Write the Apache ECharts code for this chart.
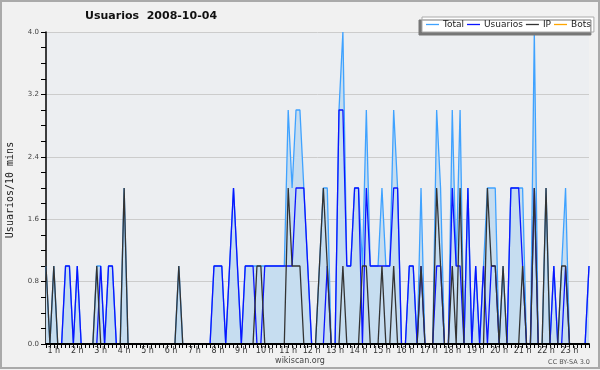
<!DOCTYPE html>
<html>
<head>
<meta charset="utf-8">
<script src="https://cdn.jsdelivr.net/npm/echarts@6/dist/echarts.min.js"></script>
<style>
html,body{margin:0;padding:0;background:#f1f1f1;}
#c{width:600px;height:370px;}
</style>
</head>
<body>
<div id="c"></div>
<script>
// 10-minute slots, first slot shown at 0:40
var hourLabels = ["1 h","2 h","3 h","4 h","5 h","6 h","7 h","8 h","9 h","10 h","11 h","12 h",
  "13 h","14 h","15 h","16 h","17 h","18 h","19 h","20 h","21 h","22 h","23 h"];
var yTicks = [0, 0.8, 1.6, 2.4, 3.2, 4.0];

var total = [
  1,0,1,0,0,1,1,0,1,0,
  0,0,0,1,1,0,1,1,0,0,
  2,0,0,0,0,0,0,0,0,0,
  0,0,0,0,1,0,0,0,0,0,
  0,0,0,1,1,1,0,1,2,1,
  0,1,1,1,1,1,1,1,1,1,
  1,1,3,2,3,3,2,1,0,0,
  1,2,2,0,0,3,4,1,1,2,
  2,1,3,1,1,1,2,1,1,3,
  2,0,0,1,1,0,2,0,0,0,
  3,2,0,0,3,1,3,0,2,0,
  1,0,1,2,2,2,0,1,0,2,
  2,2,2,0,0,4,0,0,2,0,
  1,0,1,2,0,0,0,0,0,1
];
var usuarios = [
  0,0,0,0,0,1,1,0,1,0,
  0,0,0,0,1,0,1,1,0,0,
  0,0,0,0,0,0,0,0,0,0,
  0,0,0,0,0,0,0,0,0,0,
  0,0,0,1,1,1,0,1,2,1,
  0,1,1,1,0,0,1,1,1,1,
  1,1,1,1,2,2,2,1,0,0,
  0,0,1,0,0,3,3,1,1,2,
  2,0,2,1,1,1,1,1,1,2,
  2,0,0,1,1,0,1,0,0,0,
  1,1,0,0,2,1,1,0,2,0,
  1,0,1,0,1,1,0,0,0,2,
  2,2,1,0,0,2,0,0,0,0,
  1,0,0,1,0,0,0,0,0,1
];
var ip = [
  1,0,1,0,0,0,0,0,0,0,
  0,0,0,1,0,0,0,0,0,0,
  2,0,0,0,0,0,0,0,0,0,
  0,0,0,0,1,0,0,0,0,0,
  0,0,0,0,0,0,0,0,0,0,
  0,0,0,0,1,1,0,0,0,0,
  0,0,2,1,1,1,0,0,0,0,
  1,2,1,0,0,0,1,0,0,0,
  0,1,1,0,0,0,1,0,0,1,
  0,0,0,0,0,0,1,0,0,0,
  2,1,0,0,1,0,2,0,0,0,
  0,0,0,2,1,1,0,1,0,0,
  0,0,1,0,0,2,0,0,2,0,
  0,0,1,1,0,0,0,0,0,0
];
var bots = [
  0,0,0,0,0,0,0,0,0,0,
  0,0,0,0,0,0,0,0,0,0,
  0,0,0,0,0,0,0,0,0,0,
  0,0,0,0,0,0,0,0,0,0,
  0,0,0,0,0,0,0,0,0,0,
  0,0,0,0,0,0,0,0,0,0,
  0,0,0,0,0,0,0,0,0,0,
  0,0,0,0,0,0,0,0,0,0,
  0,0,0,0,0,0,0,0,0,0,
  0,0,0,0,0,0,0,0,0,0,
  0,0,0,0,0,0,0,0,0,0,
  0,0,0,0,0,0,0,0,0,0,
  0,0,0,0,0,0,0,0,0,0,
  0,0,0,0,0,0,0,0,0,0
];

var slots = [];
for (var i = 0; i < total.length; i++) {
  var m = (i + 4) * 10;
  slots.push(Math.floor(m / 60) + ":" + ("0" + (m % 60)).slice(-2));
}
function isHour(idx) { return (idx + 4) % 6 === 0; }

var chart = echarts.init(document.getElementById('c'), null, {renderer: 'canvas'});
var FONT = 'DejaVu Sans';
chart.setOption({
  backgroundColor: '#f1f1f1',
  animation: false,
  title: {
    text: 'Usuarios  2008-10-04',
    left: 80, top: 6,
    textStyle: {fontFamily: FONT, fontSize: 11, fontWeight: 'bold', color: '#111'}
  },
  legend: {
    data: ['Total', 'Usuarios', 'IP', 'Bots'],
    left: 422, top: 17,
    icon: 'rect', itemWidth: 13, itemHeight: 1.3, itemGap: 3,
    padding: [3, 3, 3, 4],
    backgroundColor: '#ffffff',
    borderColor: '#aaaaaa', borderWidth: 1,
    shadowColor: '#777777', shadowBlur: 0, shadowOffsetX: -3, shadowOffsetY: 3,
    textStyle: {fontFamily: FONT, fontSize: 9, color: '#222', padding: [0, 0, 0, -1]}
  },
  grid: {
    left: 46, right: 11, top: 32, bottom: 26,
    show: true, backgroundColor: '#eceef1', borderWidth: 0
  },
  xAxis: {
    type: 'category', data: slots, boundaryGap: false, z: 10,
    axisLine: {lineStyle: {color: '#000', width: 2}},
    axisTick: {interval: 0, length: 4, lineStyle: {color: '#000'}},
    axisLabel: {
      interval: function (idx) { return isHour(idx); },
      formatter: function (v, idx) { return isHour(idx) ? hourLabels[(idx + 4) / 6 - 1] : ''; },
      margin: 3, fontFamily: FONT, fontSize: 8, color: '#333'
    },
    splitLine: {show: false}
  },
  yAxis: {
    type: 'value', min: 0, max: 4, interval: 0.8,
    axisLine: {show: true, lineStyle: {color: '#000', width: 1.5}},
    axisTick: {show: true, length: 5, lineStyle: {color: '#000'}},
    minorTick: {show: true, splitNumber: 4, length: 5, lineStyle: {color: '#000'}},
    axisLabel: {
      formatter: function (v) { return v.toFixed(1); },
      margin: 7, fontFamily: FONT, fontSize: 7, color: '#444'
    },
    splitLine: {show: true, lineStyle: {color: '#cccccc', width: 1}}
  },
  graphic: [
    {type: 'rect', shape: {x: 1, y: 1, width: 598, height: 367}, style: {fill: 'none', stroke: '#aaaaaa', lineWidth: 2}, z: 100},
    {type: 'text', x: 10, y: 190, rotation: Math.PI / 2,
      style: {text: 'Usuarios/10 mins', fontFamily: 'DejaVu Sans Mono', fontSize: 10, fill: '#222', textAlign: 'center', textVerticalAlign: 'middle'}},
    {type: 'text', x: 300, y: 361,
      style: {text: 'wikiscan.org', fontFamily: FONT, fontSize: 8, fill: '#444', textAlign: 'center', textVerticalAlign: 'middle'}},
    {type: 'text', x: 590, y: 362,
      style: {text: 'CC BY-SA 3.0', fontFamily: FONT, fontSize: 6.5, fill: '#555', textAlign: 'right', textVerticalAlign: 'middle'}}
  ],
  series: [
    {name: 'Total', type: 'line', data: total, showSymbol: false, symbol: 'none',
      lineStyle: {color: '#3fa2ff', width: 1.3}, itemStyle: {color: '#3fa2ff'},
      areaStyle: {color: '#c6ddf0', opacity: 1}},
    {name: 'Usuarios', type: 'line', data: usuarios, showSymbol: false, symbol: 'none',
      lineStyle: {color: '#0a14ff', width: 1.3}, itemStyle: {color: '#0a14ff'}},
    {name: 'IP', type: 'line', data: ip, showSymbol: false, symbol: 'none',
      lineStyle: {color: '#333333', width: 1.3}, itemStyle: {color: '#333333'}},
    {name: 'Bots', type: 'line', data: bots, showSymbol: false, symbol: 'none',
      lineStyle: {color: '#ffa500', width: 1.3}, itemStyle: {color: '#ffa500'}}
  ]
});
</script>
</body>
</html>
